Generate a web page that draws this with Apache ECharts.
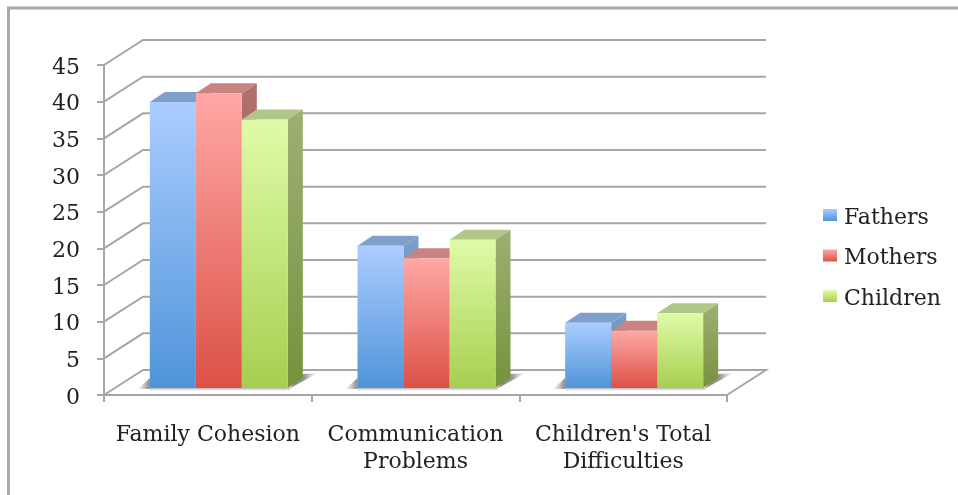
<!DOCTYPE html>
<html>
<head>
<meta charset="utf-8">
<style>html,body{margin:0;padding:0;background:#fff}#chart{width:958px;height:495px}</style>
<script src="https://cdn.jsdelivr.net/npm/echarts@6/dist/echarts.min.js"></script>
</head>
<body>
<div id="chart"></div>
<script>
// Survey scores by family role
const categories = ['Family Cohesion', 'Communication\nProblems', "Children's Total\nDifficulties"];
const fathers = [39, 19.4, 8.9];
const mothers = [40.2, 17.7, 7.8];
const children = [36.6, 20.2, 10.2];
const tickValues = [0, 5, 10, 15, 20, 25, 30, 35, 40, 45];

// Oblique projection used for the pseudo-3D box
const WALL_DX = 39, WALL_DY = -25;      // floor depth
const FRONT_DX = 11, FRONT_DY = -7;     // gap between floor edge and bar front
const BAR_DX = 15, BAR_DY = -10;        // bar depth
const BAR_RATIO = 0.2215;               // bar width as a share of the category band
const LINE = '#a6a6a6';
const TEXT = '#222';
const FONT = '"DejaVu Serif", serif';

const grad = (a, b) => ({type: 'linear', x: 0, y: 0, x2: 0, y2: 1,
  colorStops: [{offset: 0, color: a}, {offset: 1, color: b}]});

const palette = [
  {front: ['#abcdff', '#4f94d9'], top: '#7f9fcd', side: ['#7f9fcd', '#3f75ab']},
  {front: ['#ffa8a5', '#db5146'], top: '#c98482', side: ['#b07270', '#a83f37']},
  {front: ['#e0fba8', '#a6cf50'], top: '#b2c68a', side: ['#9db074', '#76923c']}
];

// One bar of a cluster: side face, top face, then front face
function barRenderer(slot) {
  return function (params, api) {
    const cat = api.value(0);
    const band = api.size([1, 0])[0];
    const w = band * BAR_RATIO;
    const top = api.coord([cat, api.value(1)]);
    const base = api.coord([cat, 0]);
    const x0 = top[0] + FRONT_DX + (slot - 1.5) * w;
    const x1 = x0 + w;
    const yT = top[1] + FRONT_DY;
    const yB = base[1] + FRONT_DY;
    const c = palette[slot];
    return {
      type: 'group',
      children: [
        {type: 'polygon', shape: {points: [[x1, yT], [x1 + BAR_DX, yT + BAR_DY], [x1 + BAR_DX, yB + BAR_DY], [x1, yB]]},
          style: {fill: grad(c.side[0], c.side[1])}},
        {type: 'polygon', shape: {points: [[x0, yT], [x0 + BAR_DX, yT + BAR_DY], [x1 + BAR_DX, yT + BAR_DY], [x1, yT]]},
          style: {fill: c.top}},
        {type: 'rect', shape: {x: x0, y: yT, width: w, height: yB - yT},
          style: {fill: grad(c.front[0], c.front[1])}}
      ]
    };
  };
}

// Back wall and floor rules, one per tick
function renderWall(params, api) {
  const v = api.value(1);
  const band = api.size([1, 0])[0];
  const p = api.coord([0, v]);
  const xL = p[0] - band / 2;
  const xR = api.coord([categories.length - 1, v])[0] + band / 2;
  const y = p[1];
  const points = [[xL, y], [xL + WALL_DX, y + WALL_DY], [xR + WALL_DX, y + WALL_DY]];
  if (v === 0) points.push([xR, y]);
  return {type: 'polyline', shape: {points}, style: {stroke: LINE, lineWidth: 2, fill: null}};
}

// Soft shadow the bar cluster casts on the floor
function renderShadow(params, api) {
  const cat = api.value(0);
  const band = api.size([1, 0])[0];
  const w = band * BAR_RATIO;
  const p = api.coord([cat, 0]);
  const x0 = p[0] + FRONT_DX - 1.5 * w;
  const x1 = p[0] + FRONT_DX + 1.5 * w;
  const y = p[1] + FRONT_DY;
  const hLinear = (stops) => ({type: 'linear', x: 0, y: 0, x2: 1, y2: 0,
    colorStops: stops.map(([offset, color]) => ({offset, color}))});
  return {
    type: 'group',
    children: [
      {type: 'polygon', shape: {points: [[x0 - 12, y + 1], [x0, y - 10], [x0, y + 1]]},
        style: {fill: hLinear([[0, 'rgba(190,190,190,0.2)'], [1, 'rgba(120,120,120,0.9)']])}},
      {type: 'polygon', shape: {points: [[x1 + 1, y + 1], [x1 + BAR_DX, y + BAR_DY - 4], [x1 + BAR_DX + 15, y + BAR_DY - 5]]},
        style: {fill: hLinear([[0, 'rgba(120,120,120,0.9)'], [0.55, 'rgba(125,125,125,0.8)'], [1, 'rgba(205,205,205,0.1)']])}},
      {type: 'rect', shape: {x: x0, y: y, width: x1 - x0 + 2, height: 3},
        style: {fill: grad('rgba(140,140,140,0.7)', 'rgba(210,210,210,0.1)')}}
    ]
  };
}

const barSeries = [['Fathers', fathers], ['Mothers', mothers], ['Children', children]].map(([name, values], i) => ({
  name,
  type: 'custom',
  z: 5 + i,
  renderItem: barRenderer(i),
  itemStyle: {color: grad(palette[i].front[0], palette[i].front[1])},
  encode: {x: 0, y: 1},
  data: values.map((v, c) => [c, v])
}));

const labelRich = {t: {fontFamily: FONT, fontSize: 22, color: TEXT, padding: [6, 0, 0, 0]}};

const chart = echarts.init(document.getElementById('chart'), null, {renderer: 'canvas'});
chart.setOption({
  animation: false,
  backgroundColor: '#fff',
  graphic: [{
    type: 'polyline',
    silent: true,
    shape: {points: [[8.5, 495], [8.5, 8], [958, 8]]},
    style: {stroke: '#aaa', lineWidth: 3, fill: null}
  }],
  grid: {left: 104, right: 231, top: 65, bottom: 100},
  legend: {
    orient: 'vertical',
    left: 818,
    top: 202,
    itemWidth: 14,
    itemHeight: 12,
    itemGap: 18.5,
    icon: 'rect',
    selectedMode: false,
    data: ['Fathers', 'Mothers', 'Children'],
    formatter: '{t|{name}}',
    textStyle: {padding: [0, 0, 0, 2], rich: labelRich}
  },
  xAxis: {
    type: 'category',
    data: categories,
    axisLine: {lineStyle: {color: LINE, width: 2}},
    axisTick: {show: true, length: 7, lineStyle: {color: LINE, width: 2}},
    axisLabel: {color: TEXT, fontFamily: FONT, fontSize: 22, lineHeight: 27, margin: 27, interval: 0},
    splitLine: {show: false}
  },
  yAxis: {
    type: 'value',
    min: 0,
    max: 45,
    interval: 5,
    axisLine: {show: true, lineStyle: {color: LINE, width: 2}},
    axisTick: {show: true, length: 7, lineStyle: {color: LINE, width: 2}},
    axisLabel: {margin: 24, formatter: '{t|{value}}', rich: labelRich},
    splitLine: {show: false}
  },
  series: [
    {type: 'custom', silent: true, z: 1, renderItem: renderWall, encode: {x: 0, y: 1},
      data: tickValues.map(v => [0, v])},
    {type: 'custom', silent: true, z: 2, renderItem: renderShadow, encode: {x: 0, y: 1},
      data: categories.map((c, i) => [i, 0])},
    ...barSeries
  ]
});
</script>
</body>
</html>
